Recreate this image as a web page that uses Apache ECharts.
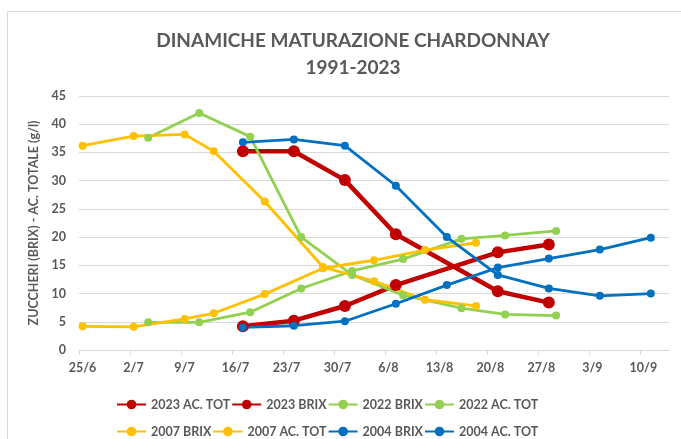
<!DOCTYPE html>
<html>
<head>
<meta charset="utf-8">
<script src="https://cdn.jsdelivr.net/npm/echarts@6/dist/echarts.min.js"></script>
<style>
	html, body { margin: 0; padding: 0; background: #fff; }
	#chart { width: 681px; height: 439px; }
</style>
</head>
<body>
<div id="chart"></div>
<script>
// etichette asse x (una ogni 7 giorni a partire dal 25/6)
const tickLabels = ['25/6', '2/7', '9/7', '16/7', '23/7', '30/7', '6/8', '13/8', '20/8', '27/8', '3/9', '10/9']

// 2023
const dates2023 = ['17/7', '24/7', '31/7', '7/8', '21/8', '28/8']
const ac2023 = [35.2, 35.2, 30.1, 20.5, 10.4, 8.4]
const brix2023 = [4.2, 5.2, 7.8, 11.5, 17.3, 18.7]

// 2022
const dates2022 = ['4/7', '11/7', '18/7', '25/7', '1/8', '8/8', '16/8', '22/8', '29/8']
const brix2022 = [4.9, 4.9, 6.7, 10.9, 14.0, 16.1, 19.7, 20.3, 21.1]
const ac2022 = [37.6, 42.0, 37.8, 20.0, 13.3, 9.7, 7.4, 6.3, 6.1]

// 2007
const dates2007 = ['25/6', '2/7', '9/7', '13/7', '20/7', '28/7', '4/8', '11/8', '18/8']
const brix2007 = [4.2, 4.1, 5.5, 6.5, 9.9, 14.5, 15.9, 17.7, 19.0]
const ac2007 = [36.2, 37.9, 38.2, 35.2, 26.3, 14.7, 12.2, 8.9, 7.8]

// 2004
const dates2004 = ['17/7', '24/7', '31/7', '7/8', '14/8', '21/8', '28/8', '4/9', '11/9']
const brix2004 = [4.0, 4.3, 5.1, 8.2, 11.5, 14.6, 16.2, 17.8, 19.9]
const ac2004 = [36.8, 37.3, 36.2, 29.1, 20.0, 13.3, 10.9, 9.6, 10.0]

const FONT = 'Lato'
const GREY = '#595959'

// giorni dal 25/6, +0.5 per stare al centro del giorno (come l'asse data di Excel)
const toX = (d) => {
	const [dd, mm] = d.split('/').map(Number)
	return (Date.UTC(2000, mm - 1, dd) - Date.UTC(2000, 5, 25)) / 86400000 + 0.5
}
const pairs = (dates, vals) => dates.map((d, i) => [toX(d), vals[i]])

const mkSeries = (name, color, dates, vals, thick) => ({
	name: name,
	type: 'line',
	data: pairs(dates, vals),
	symbol: 'circle',
	symbolSize: thick ? 12 : 8,
	lineStyle: { color: color, width: thick ? 4.5 : 2.8 },
	itemStyle: { color: color },
	emphasis: { disabled: true },
})

const tickValues = tickLabels.map((_, i) => i * 7)

const legendBase = {
	left: 111,
	itemWidth: 29,
	itemHeight: 12,
	itemGap: 1,
	textStyle: { fontFamily: FONT, fontWeight: 'bold', fontSize: 12.5, color: GREY, width: 66, overflow: 'none' },
}

const myChart = echarts.init(document.getElementById('chart'))
let option = {
	animation: false,
	textStyle: { fontFamily: FONT },
	title: {
		text: 'DINAMICHE MATURAZIONE CHARDONNAY\n1991-2023',
		left: 348,
		top: 22,
		textAlign: 'center',
		textStyle: { fontFamily: FONT, fontSize: 19, fontWeight: 'bold', color: GREY, lineHeight: 27 },
	},
	graphic: [
		{ type: 'rect', shape: { x: 7.5, y: 11.5, width: 700, height: 500 }, style: { fill: 'none', stroke: '#d9d9d9', lineWidth: 1 } },
	],
	legend: [
		Object.assign({ top: 393, data: ['2023 AC. TOT', '2023 BRIX', '2022 BRIX', '2022 AC. TOT'] }, legendBase),
		Object.assign({ top: 420, data: ['2007 BRIX', '2007 AC. TOT', '2004 BRIX', '2004 AC. TOT'] }, legendBase),
	],
	grid: { left: 79, right: 12, top: 96, bottom: 89 },
	xAxis: {
		type: 'value',
		min: 0,
		max: 81,
		interval: 7,
		splitLine: { show: false },
		axisLine: { lineStyle: { color: '#d9d9d9' } },
		axisTick: { show: true, length: 5, lineStyle: { color: '#d9d9d9' }, customValues: tickValues },
		axisLabel: {
			customValues: tickValues,
			formatter: (v) => tickLabels[Math.round(v / 7)] || '',
			fontFamily: FONT,
			fontWeight: 'bold',
			fontSize: 12.5,
			color: GREY,
			margin: 11,
			padding: [0, 0, 0, 7],
		},
	},
	yAxis: {
		type: 'value',
		min: 0,
		max: 45,
		interval: 5,
		name: 'ZUCCHERI (BRIX) - AC. TOTALE (g/l)',
		nameLocation: 'middle',
		nameGap: 29,
		nameTextStyle: { fontFamily: FONT, fontWeight: 'bold', fontSize: 12.5, color: GREY },
		axisLine: { show: false },
		axisTick: { show: false },
		splitLine: { lineStyle: { color: '#d9d9d9', width: 1 } },
		axisLabel: { fontFamily: FONT, fontWeight: 'bold', fontSize: 12.5, color: GREY, margin: 13 },
	},
	series: [
		mkSeries('2023 AC. TOT', '#C00000', dates2023, ac2023, true),
		mkSeries('2023 BRIX', '#C00000', dates2023, brix2023, true),
		mkSeries('2022 BRIX', '#92D050', dates2022, brix2022, false),
		mkSeries('2022 AC. TOT', '#92D050', dates2022, ac2022, false),
		mkSeries('2007 BRIX', '#FFC000', dates2007, brix2007, false),
		mkSeries('2007 AC. TOT', '#FFC000', dates2007, ac2007, false),
		mkSeries('2004 BRIX', '#0070C0', dates2004, brix2004, false),
		mkSeries('2004 AC. TOT', '#0070C0', dates2004, ac2004, false),
	],
}
myChart.setOption(option)
</script>
</body>
</html>
